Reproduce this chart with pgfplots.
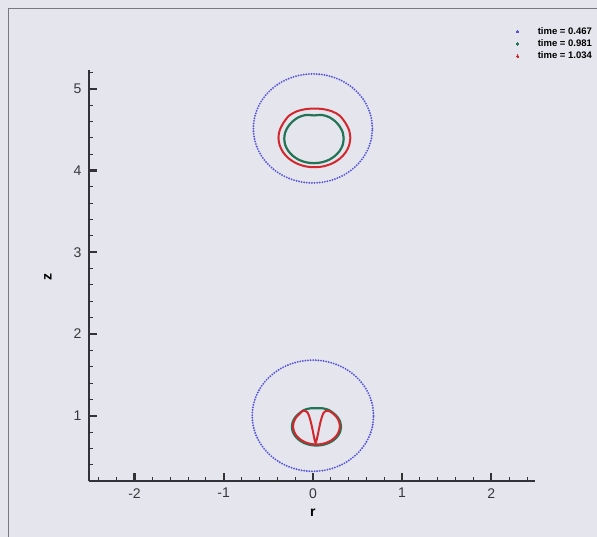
\documentclass[border=0pt]{standalone}
\usepackage{fontspec}
\setmainfont{Liberation Sans}
\usepackage{pgfplots}
\pgfplotsset{compat=1.18}
\definecolor{bg}{RGB}{229,229,237}
\definecolor{framec}{RGB}{120,120,128}
\definecolor{axc}{RGB}{50,50,55}
\definecolor{bluec}{RGB}{85,85,215}
\definecolor{greenc}{RGB}{35,115,85}
\definecolor{redc}{RGB}{210,40,45}
\definecolor{tickc}{RGB}{55,55,60}
\begin{document}
\begin{tikzpicture}[x=1pt,y=1pt]
\path[use as bounding box, fill=bg] (0,0) rectangle (597,537);
\draw[framec, line width=0.9pt] (8,-5) -- (8,529) -- (605,529);
\begin{axis}[
  at={(89pt,56.3pt)}, anchor=south west, scale only axis,
  width=446pt, height=410.7pt,
  xmin=-2.51, xmax=2.49, ymin=0.205, ymax=5.23,
  axis lines=left, axis line style={-, line width=2pt, axc},
  clip=false,
  xtick={-2,-1,0,1,2}, ytick={1,2,3,4,5},
  minor xtick={-2.4,-2.2,-1.8,-1.6,-1.4,-1.2,-0.8,-0.6,-0.4,-0.2,0.2,0.4,0.6,0.8,1.2,1.4,1.6,1.8,2.2,2.4},
  minor ytick={0.4,0.6,0.8,1.2,1.4,1.6,1.8,2.2,2.4,2.6,2.8,3.2,3.4,3.6,3.8,4.2,4.4,4.6,4.8,5.2},
  tick align=inside,
  major tick length=8pt, minor tick length=3.5pt,
  major tick style={line width=2.2pt, axc},
  minor tick style={line width=0.9pt, axc},
  /pgf/number format/assume math mode=true,
  ticklabel style={font=\fontsize{14}{14}\selectfont, text=tickc},
  xticklabel style={yshift=-4pt},
  yticklabel style={xshift=-4pt},
  every axis x label/.style={at={(axis description cs:0.502,-0.079)}, anchor=center},
  every axis y label/.style={at={(axis description cs:-0.092,0.496)}, rotate=90, anchor=center},
  xlabel={\fontsize{14}{14}\selectfont\bfseries r},
  ylabel={\fontsize{14}{14}\selectfont\bfseries z},
  legend style={at={(axis description cs:1.128,1.105)}, anchor=north east,
    draw=none, fill=none, inner sep=0pt, row sep=3.3pt,
    font=\fontsize{9.5}{10}\selectfont\bfseries,
    nodes={inner sep=0pt, text height=7pt, text depth=2pt, anchor=west}},
  legend cell align=left,
  legend image code/.code={\fill[solid, line width=0pt] (2pt,0pt) circle[radius=1.2pt]; \path (-2pt,0pt) (21pt,0pt);},
]
% time = 0.467 (upper and lower drops)
\addplot[color=bluec, line width=2.1pt, line cap=round, dash pattern=on 0pt off 2.6pt, smooth] coordinates {
(0.667,4.515) (0.657,4.631) (0.627,4.743) (0.578,4.849) (0.511,4.944) (0.429,5.026)
(0.334,5.093) (0.228,5.142) (0.116,5.172) (0,5.182) (-0.116,5.172) (-0.228,5.142)
(-0.334,5.093) (-0.429,5.026) (-0.511,4.944) (-0.578,4.849) (-0.627,4.743) (-0.657,4.631)
(-0.667,4.515) (-0.657,4.399) (-0.627,4.287) (-0.578,4.181) (-0.511,4.086) (-0.429,4.004)
(-0.334,3.937) (-0.228,3.888) (-0.116,3.858) (0,3.848) (0.116,3.858) (0.228,3.888)
(0.334,3.937) (0.429,4.004) (0.511,4.086) (0.578,4.181) (0.627,4.287) (0.657,4.399)
(0.667,4.515)};
\addlegendentry{time = 0.467}
\addplot[forget plot, color=bluec, line width=2.1pt, line cap=round, dash pattern=on 0pt off 2.6pt, smooth] coordinates {
(0.68,1.0) (0.670,1.118) (0.639,1.233) (0.589,1.34) (0.521,1.437) (0.437,1.521)
(0.34,1.589) (0.233,1.639) (0.118,1.670) (0,1.68) (-0.118,1.670) (-0.233,1.639)
(-0.34,1.589) (-0.437,1.521) (-0.521,1.437) (-0.589,1.34) (-0.639,1.233) (-0.670,1.118)
(-0.68,1.0) (-0.670,0.882) (-0.639,0.767) (-0.589,0.66) (-0.521,0.563) (-0.437,0.479)
(-0.34,0.411) (-0.233,0.361) (-0.118,0.330) (0,0.32) (0.118,0.330) (0.233,0.361)
(0.34,0.411) (0.437,0.479) (0.521,0.563) (0.589,0.66) (0.639,0.767) (0.670,0.882)
(0.68,1.0)};
% time = 0.981
\addplot[color=greenc, line width=2.2pt, smooth] coordinates {
(0.345,4.39) (0.334,4.468) (0.300,4.54) (0.247,4.605) (0.179,4.655) (0.098,4.68)
(0.012,4.674) (-0.074,4.68) (-0.155,4.655) (-0.223,4.605) (-0.276,4.54) (-0.310,4.468)
(-0.321,4.39) (-0.310,4.312) (-0.276,4.24) (-0.223,4.178) (-0.155,4.13) (-0.074,4.10)
(0.012,4.09) (0.098,4.10) (0.179,4.13) (0.247,4.178) (0.300,4.24) (0.334,4.312)
(0.345,4.39)};
\addlegendentry{time = 0.981}
\addplot[forget plot, color=greenc, line width=2.2pt, smooth] coordinates {
(0.315,0.865) (0.306,0.925) (0.278,0.980) (0.234,1.028) (0.178,1.070) (0.111,1.090)
(0.040,1.092) (-0.031,1.090) (-0.098,1.070) (-0.154,1.028) (-0.198,0.980) (-0.226,0.925)
(-0.235,0.865) (-0.226,0.805) (-0.198,0.750) (-0.154,0.702) (-0.098,0.666) (-0.031,0.643)
(0.040,0.635) (0.111,0.643) (0.178,0.666) (0.234,0.702) (0.278,0.750) (0.306,0.805)
(0.315,0.865)};
% time = 1.034
\addplot[color=redc, line width=2pt, smooth] coordinates {
(0.420,4.40) (0.406,4.493) (0.366,4.58) (0.302,4.67) (0.219,4.722) (0.121,4.75)
(0.017,4.758) (-0.087,4.75) (-0.185,4.722) (-0.268,4.67) (-0.332,4.58) (-0.372,4.493)
(-0.386,4.40) (-0.372,4.307) (-0.332,4.22) (-0.268,4.145) (-0.185,4.088) (-0.087,4.052)
(0.017,4.04) (0.121,4.052) (0.219,4.088) (0.302,4.145) (0.366,4.22) (0.406,4.307)
(0.420,4.40)};
\addlegendentry{time = 1.034}
\addplot[forget plot, color=redc, line width=2pt, smooth, tension=0.45] coordinates {
(-0.120,1.058) (-0.145,1.027) (-0.187,0.981) (-0.213,0.927) (-0.222,0.87) (-0.213,0.813)
(-0.187,0.759) (-0.145,0.713) (-0.091,0.678) (-0.028,0.656) (0.04,0.648) (0.108,0.656)
(0.171,0.678) (0.225,0.713) (0.267,0.759) (0.293,0.813) (0.302,0.87) (0.293,0.927)
(0.267,0.981) (0.225,1.027) (0.185,1.055) (0.150,1.060) (0.120,1.035) (0.098,0.975)
(0.080,0.900) (0.065,0.820) (0.050,0.740) (0.038,0.690) (0.030,0.668) (0.022,0.690)
(0.012,0.740) (-0.002,0.820) (-0.018,0.900) (-0.036,0.975) (-0.058,1.035) (-0.088,1.060)
(-0.120,1.058)};
\end{axis}
\end{tikzpicture}
\end{document}
